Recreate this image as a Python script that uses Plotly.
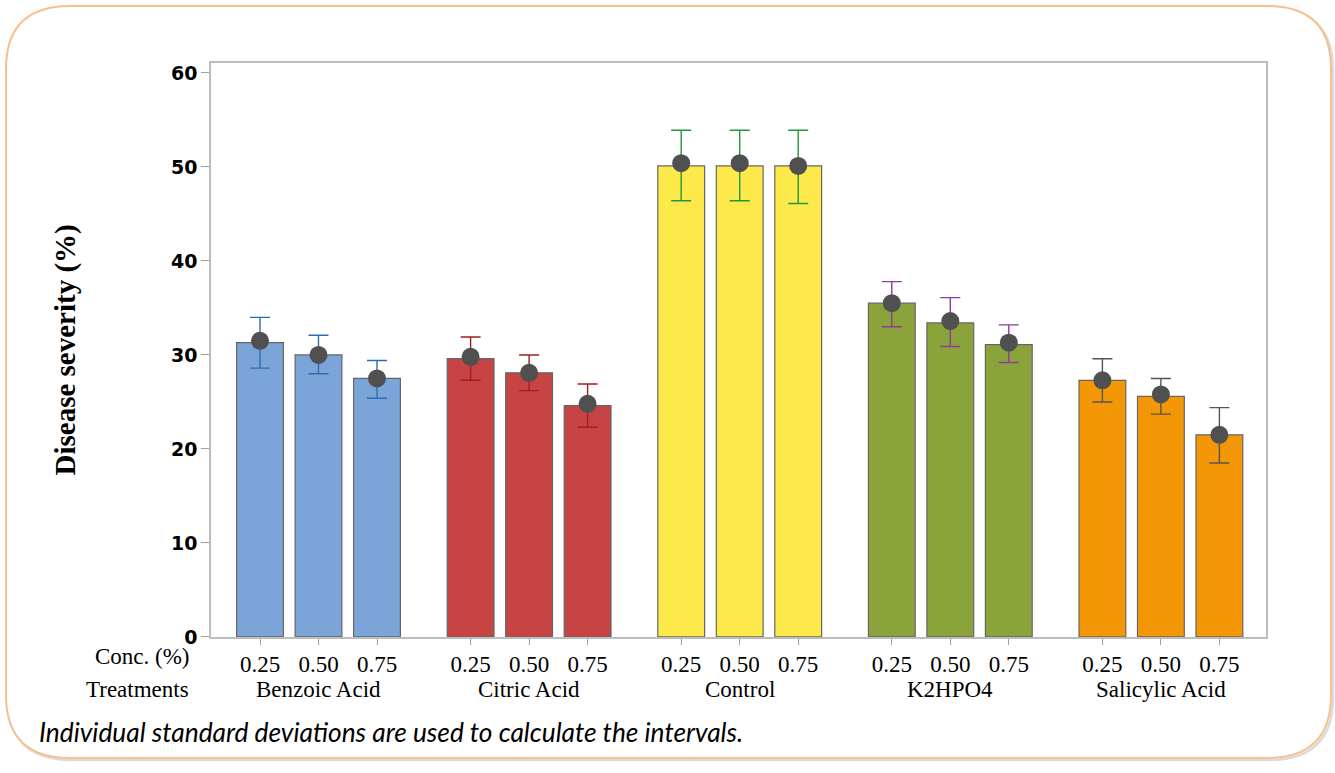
import plotly.graph_objects as go

# ---- data -------------------------------------------------------------
treatments = ["Benzoic Acid", "Citric Acid", "Control", "K2HPO4", "Salicylic Acid"]
concentrations = ["0.25", "0.50", "0.75"]

# bar heights (disease severity, %)
bar_values = [
    [31.3, 30.0, 27.5],
    [29.6, 28.1, 24.6],
    [50.1, 50.1, 50.1],
    [35.5, 33.4, 31.1],
    [27.3, 25.6, 21.5],
]
# group means shown as dots
mean_values = [
    [31.5, 30.0, 27.5],
    [29.8, 28.1, 24.8],
    [50.4, 50.4, 50.1],
    [35.5, 33.6, 31.3],
    [27.3, 25.8, 21.5],
]
# interval limits (mean +/- individual SD)
upper_values = [
    [34.0, 32.1, 29.4],
    [31.9, 30.0, 26.9],
    [53.9, 53.9, 53.9],
    [37.8, 36.1, 33.2],
    [29.6, 27.5, 24.4],
]
lower_values = [
    [28.6, 28.0, 25.4],
    [27.3, 26.2, 22.3],
    [46.4, 46.4, 46.1],
    [33.0, 30.9, 29.2],
    [25.0, 23.7, 18.5],
]

bar_colors = ["#7BA5D8", "#C64444", "#FEE94A", "#8AA43B", "#F39707"]
interval_colors = ["#2E6DB4", "#A31E1E", "#23963A", "#8C3C9C", "#555555"]

y_ticks = [0, 10, 20, 30, 40, 50, 60]

# ---- layout geometry --------------------------------------------------
W, H = 1335, 773
GROUP_STEP = 3.6
PLOT_L, PLOT_R, PLOT_T, PLOT_B = 211, 1266, 63, 646


def px_x(px):
    return px / W


def px_y(py):
    return 1 - py / H


fig = go.Figure()

tick_positions, tick_labels = [], []
for g, name in enumerate(treatments):
    xs = [g * GROUP_STEP + i for i in range(len(concentrations))]
    tick_positions += xs
    tick_labels += concentrations
    fig.add_trace(go.Bar(
        x=xs, y=bar_values[g], width=0.8,
        marker=dict(color=bar_colors[g], line=dict(color="#666666", width=1.2)),
        name=name, showlegend=False, hoverinfo="skip",
    ))

for g, name in enumerate(treatments):
    xs = [g * GROUP_STEP + i for i in range(len(concentrations))]
    means = mean_values[g]
    fig.add_trace(go.Scatter(
        x=xs, y=means, mode="markers",
        marker=dict(color="#505050", size=18),
        error_y=dict(
            type="data", symmetric=False,
            array=[u - m for u, m in zip(upper_values[g], means)],
            arrayminus=[m - l for m, l in zip(means, lower_values[g])],
            color=interval_colors[g], thickness=1.4, width=10,
        ),
        name=name, showlegend=False,
    ))

x_lo = -(260 - PLOT_L) / 58.5
x_hi = x_lo + (PLOT_R - PLOT_L) / 58.5

fig.update_layout(
    width=W, height=H, autosize=False,
    margin=dict(l=0, r=0, t=0, b=0, pad=0),
    paper_bgcolor="white", plot_bgcolor="white",
    barmode="overlay",
    xaxis=dict(
        domain=[px_x(PLOT_L), px_x(PLOT_R)],
        range=[x_lo, x_hi],
        tickmode="array", tickvals=tick_positions, ticktext=tick_labels,
        ticks="outside", ticklen=6, tickcolor="#9E9E9E",
        tickfont=dict(family="Liberation Serif", size=23, color="black"),
        showgrid=False, zeroline=False,
        showline=True, linecolor="#BDBDBD", linewidth=1.5, mirror=True,
    ),
    yaxis=dict(
        domain=[px_y(PLOT_B), px_y(PLOT_T)],
        range=[0, 61.05],
        tickmode="array", tickvals=y_ticks,
        ticks="outside", ticklen=8, tickcolor="#9E9E9E",
        tickfont=dict(family="DejaVu Sans", size=19, color="black", weight="bold"),
        showgrid=False, zeroline=False,
        showline=True, linecolor="#BDBDBD", linewidth=1.5, mirror=True,
    ),
)

# ---- rounded outer frame ----------------------------------------------
def rounded_rect(x0, y0, x1, y1, r):
    X = lambda v: px_x(v)
    Y = lambda v: px_y(v)
    return (
        f"M {X(x0 + r)},{Y(y0)} L {X(x1 - r)},{Y(y0)} "
        f"Q {X(x1)},{Y(y0)} {X(x1)},{Y(y0 + r)} "
        f"L {X(x1)},{Y(y1 - r)} Q {X(x1)},{Y(y1)} {X(x1 - r)},{Y(y1)} "
        f"L {X(x0 + r)},{Y(y1)} Q {X(x0)},{Y(y1)} {X(x0)},{Y(y1 - r)} "
        f"L {X(x0)},{Y(y0 + r)} Q {X(x0)},{Y(y0)} {X(x0 + r)},{Y(y0)} Z"
    )

fig.add_shape(type="path", xref="paper", yref="paper",
              path=rounded_rect(8, 7, 1333, 771, 64),
              line=dict(color="#DADADA", width=2.5), layer="below")
fig.add_shape(type="path", xref="paper", yref="paper",
              path=rounded_rect(6, 5, 1331, 769, 64),
              line=dict(color="#F9C08E", width=2), fillcolor="white", layer="below")

# ---- text -------------------------------------------------------------
serif = "Liberation Serif"
annotations = [
    dict(x=px_x(142), y=px_y(666), text="Conc. (%)"),
    dict(x=px_x(137), y=px_y(699), text="Treatments"),
]
for g, name in enumerate(treatments):
    annotations.append(dict(x=g * GROUP_STEP + 1, xref="x", y=px_y(699), text=name))

for a in annotations:
    fig.add_annotation(
        xref=a.get("xref", "paper"), yref="paper", x=a["x"], y=a["y"],
        text=a["text"], showarrow=False, xanchor="center", yanchor="middle",
        font=dict(family=serif, size=23, color="black"),
    )

fig.add_annotation(
    xref="paper", yref="paper", x=px_x(65), y=px_y(355),
    text="<b>Disease severity (%)</b>", textangle=-90, showarrow=False,
    xanchor="center", yanchor="middle",
    font=dict(family=serif, size=29, color="black"),
)

fig.add_annotation(
    xref="paper", yref="paper", x=px_x(37), y=px_y(743),
    text="<i>Individual standard deviations are used to calculate the intervals.</i>",
    showarrow=False, xanchor="left", yanchor="middle",
    font=dict(family="Lato", size=26.3, color="black"),
)

fig.write_html("out.html")
